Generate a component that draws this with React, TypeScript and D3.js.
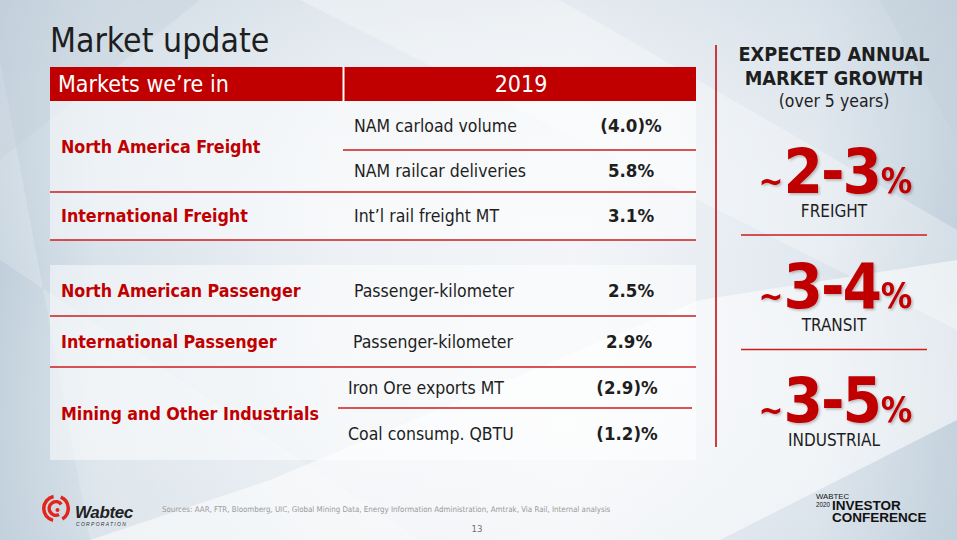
import React from "react";
import * as d3 from "d3";

// ---------- data ----------
const headerLabels = ["Markets we’re in", "2019"];
const segments = [
  "North America Freight",
  "International Freight",
  "North American Passenger",
  "International Passenger",
  "Mining and Other Industrials",
];
const metricLabels = [
  "NAM carload volume",
  "NAM railcar deliveries",
  "Int’l rail freight MT",
  "Passenger-kilometer",
  "Passenger-kilometer",
  "Iron Ore exports MT",
  "Coal consump. QBTU",
];
const metricSegment = [0, 0, 1, 2, 3, 4, 4];
const metricGroup = [0, 0, 0, 1, 1, 1, 1];
const metricValues2019 = [-4.0, 5.8, 3.1, 2.5, 2.9, -2.9, -1.2];

const panelTitle = ["EXPECTED ANNUAL", "MARKET GROWTH"];
const panelSubtitle = "(over 5 years)";
const growthLow = [2, 3, 3];
const growthHigh = [3, 4, 5];
const growthLabels = ["FREIGHT", "TRANSIT", "INDUSTRIAL"];

const slideTitle = "Market update";
const sourcesText =
  "Sources: AAR, FTR, Bloomberg, UIC, Global Mining Data, Energy Information Administration, Amtrak, Via Rail, Internal analysis";
const pageNumber = "13";

// ---------- layout ----------
const W = 957;
const H = 540;
const FONT = "'DejaVu Sans Condensed', 'DejaVu Sans', sans-serif";
const RED = "#C00000";
const DARK = "#1e1e1e";
const groupTop = [101, 265];
const rowHeights = [49, 42, 48, 51, 51, 41, 52];
const tableLeft = 50;
const tableRight = 696;
const colDivider = 343;

const fmt = d3.format(".1f");
const fmtValue = (v: number) => (v < 0 ? `(${fmt(-v)})%` : `${fmt(v)}%`);

const rowTops: number[] = [];
{
  const cur = [groupTop[0], groupTop[1]];
  metricLabels.forEach((_, i) => {
    const g = metricGroup[i];
    rowTops.push(cur[g]);
    cur[g] += rowHeights[i];
  });
}
const rowMid = (i: number) => rowTops[i] + rowHeights[i] / 2;

const valueX = d3.scaleOrdinal<number, number>().domain([0, 1, 2, 3, 4]).range([631, 631, 631, 629, 627]);
const labelX = d3.scaleOrdinal<number, number>().domain([0, 1, 2, 3, 4]).range([354, 354, 354, 353, 348]);

const growthY = d3.scalePoint<number>().domain([0, 1, 2]).range([193, 422]);

const arc = d3.arc<any>();

export default function App() {
  const segRows = segments.map((_, s) => metricLabels.map((_, i) => i).filter((i) => metricSegment[i] === s));
  const segTop = segRows.map((r) => rowTops[r[0]]);
  const segBottom = segRows.map((r) => rowTops[r[r.length - 1]] + rowHeights[r[r.length - 1]]);

  const groupBottoms = [0, 1].map(
    (g) =>
      d3.max(
        metricLabels.map((_, i) => i).filter((i) => metricGroup[i] === g),
        (i) => rowTops[i] + rowHeights[i]
      ) as number
  );

  return (
    <svg
      width={W}
      height={H}
      viewBox={`0 0 ${W} ${H}`}
      style={{ position: "absolute", left: 0, top: 0, display: "block" }}
      fontFamily={FONT}
    >
      <defs>
        <linearGradient id="bgH" x1="0" y1="0" x2="1" y2="0">
          <stop offset="0" stopColor="#c0cfdb" />
          <stop offset="0.1" stopColor="#d8e2ea" />
          <stop offset="0.35" stopColor="#edf1f5" />
          <stop offset="0.6" stopColor="#f3f5f8" />
          <stop offset="0.85" stopColor="#e1e8ef" />
          <stop offset="1" stopColor="#c0cfdb" />
        </linearGradient>
        <linearGradient id="bgV" x1="0" y1="0" x2="0" y2="1">
          <stop offset="0" stopColor="#c8d5df" stopOpacity="0.35" />
          <stop offset="0.5" stopColor="#ffffff" stopOpacity="0" />
          <stop offset="1" stopColor="#c8d5df" stopOpacity="0.25" />
        </linearGradient>
        <filter id="shadow" x="-10%" y="-10%" width="130%" height="130%">
          <feDropShadow dx="1.5" dy="1.5" stdDeviation="1.2" floodColor="#000" floodOpacity="0.25" />
        </filter>
      </defs>

      {/* background */}
      <rect x={0} y={0} width={W} height={H} fill="url(#bgH)" />
      <rect x={0} y={0} width={W} height={H} fill="url(#bgV)" />
      <polygon points="0,60 0,260 420,540 90,540" fill="#ffffff" opacity={0.18} />
      <polygon points="90,540 270,480 700,300 957,260 957,420 720,540" fill="#ffffff" opacity={0.55} />
      <polygon points="300,0 560,0 957,230 957,330" fill="#ffffff" opacity={0.3} />
      <polygon points="0,0 200,0 0,160" fill="#c2cfda" opacity={0.35} />
      <polygon points="880,0 957,0 957,140" fill="#c2cfda" opacity={0.4} />

      {/* title */}
      <text x={50} y={52} fontSize={33.5} fill={DARK}>
        {slideTitle}
      </text>

      {/* header */}
      <rect x={tableLeft} y={67} width={tableRight - tableLeft} height={34} fill={RED} />
      <line x1={colDivider + 0.5} x2={colDivider + 0.5} y1={67} y2={101} stroke="#fff" strokeWidth={2} />
      <text x={58} y={92} fontSize={23} fill="#fff">
        {headerLabels[0]}
      </text>
      <text x={521} y={92} fontSize={23} fill="#fff" textAnchor="middle">
        {headerLabels[1]}
      </text>

      {/* table body backgrounds */}
      {[0, 1].map((g) => (
        <rect
          key={g}
          x={tableLeft}
          y={groupTop[g]}
          width={tableRight - tableLeft}
          height={groupBottoms[g] - groupTop[g]}
          fill="#ffffff"
          opacity={0.5}
        />
      ))}

      {/* separators between segments */}
      {segments.map((_, s) => {
        const b = segBottom[s];
        if (b === groupBottoms[1]) return null;
        return <line key={"sl" + s} x1={tableLeft} x2={tableRight} y1={b} y2={b} stroke="#cc1c1c" strokeWidth={1.3} />;
      })}
      {/* separators within segments */}
      {metricLabels.map((_, i) => {
        const s = metricSegment[i];
        const next = i + 1;
        if (next >= metricLabels.length || metricSegment[next] !== s) return null;
        const y = rowTops[next];
        const x1 = s === 4 ? 338 : colDivider;
        const x2 = s === 4 ? 692 : tableRight;
        return <line key={"il" + i} x1={x1} x2={x2} y1={y} y2={y} stroke="#cc1c1c" strokeWidth={1.3} />;
      })}

      {/* segment labels */}
      {segments.map((name, s) => (
        <text
          key={"seg" + s}
          x={61}
          y={(segTop[s] + segBottom[s]) / 2 + 6.3}
          fontSize={17.7}
          fontWeight="bold"
          fill={RED}
        >
          {name}
        </text>
      ))}

      {/* metrics */}
      {metricLabels.map((m, i) => (
        <g key={"m" + i}>
          <text x={labelX(metricSegment[i])} y={rowMid(i) + 6.3} fontSize={17.5} fill={DARK}>
            {m}
          </text>
          <text
            x={valueX(metricSegment[i])}
            y={rowMid(i) + 6.3}
            fontSize={18.5}
            fontWeight="bold"
            fill={DARK}
            textAnchor="middle"
          >
            {fmtValue(metricValues2019[i])}
          </text>
        </g>
      ))}

      {/* right panel */}
      <line x1={716} x2={716} y1={45} y2={447} stroke={RED} strokeWidth={1.5} />
      {panelTitle.map((t, i) => (
        <text key={"pt" + i} x={834} y={61 + i * 24} fontSize={19.7} fontWeight="bold" fill={DARK} textAnchor="middle">
          {t}
        </text>
      ))}
      <text x={834} y={107} fontSize={17.5} fill={DARK} textAnchor="middle">
        {panelSubtitle}
      </text>

      {growthLabels.map((lab, i) => {
        const y = growthY(i) as number;
        return (
          <g key={"g" + i}>
            <text x={835.5} y={y} textAnchor="middle" fill={RED} fontWeight="bold" filter="url(#shadow)">
              <tspan fontSize={33}>~</tspan>
              <tspan fontSize={63} letterSpacing={-2}>{`${growthLow[i]}-${growthHigh[i]}`}</tspan>
              <tspan fontSize={35} dx={1}>%</tspan>
            </text>
            <text x={834} y={y + 23.5} fontSize={17} fill={DARK} textAnchor="middle">
              {lab}
            </text>
            {i < growthLabels.length - 1 && (
              <line x1={741} x2={927} y1={y + 42} y2={y + 42} stroke="#cc1c1c" strokeWidth={1.3} />
            )}
          </g>
        );
      })}

      {/* footer: logo */}
      <g transform="translate(56,508.5)">
        <path d={arc({ innerRadius: 10.5, outerRadius: 14, startAngle: -2.9, endAngle: -0.2 }) as string} fill="#e1251b" />
        <path d={arc({ innerRadius: 10.5, outerRadius: 14, startAngle: 0.4, endAngle: 2.6 }) as string} fill="#e1251b" />
        <path d={arc({ innerRadius: 5, outerRadius: 8.5, startAngle: -3.6, endAngle: 0.9 }) as string} fill="#e1251b" />
        <circle cx={1.5} cy={1.5} r={2} fill="#e1251b" />
      </g>
      <text
        x={75}
        y={518}
        fontSize={17}
        fontWeight="bold"
        fontStyle="italic"
        fill="#222"
        fontFamily="'Liberation Sans', Arial, sans-serif"
        letterSpacing={-0.4}
      >
        Wabtec
      </text>
      <text
        x={76}
        y={525.5}
        fontSize={5}
        fontStyle="italic"
        fill="#333"
        letterSpacing={1.3}
        fontFamily="'Liberation Sans', Arial, sans-serif"
      >
        CORPORATION
      </text>

      {/* sources */}
      <text x={162} y={512} fontSize={7.9} fill="#9a9a9a">
        {sourcesText}
      </text>
      <text x={477} y={532} fontSize={9.5} fill="#707070" textAnchor="middle">
        {pageNumber}
      </text>

      {/* conference logo */}
      <g fontFamily="'Liberation Sans', Arial, sans-serif" fill="#111">
        <text x={816} y={498.5} fontSize={7.8}>WABTEC</text>
        <text x={816} y={507} fontSize={6.3}>2020</text>
        <text x={832} y={509.5} fontSize={13.5} fontWeight="bold">INVESTOR</text>
        <text x={832} y={522} fontSize={13.5} fontWeight="bold">CONFERENCE</text>
      </g>
    </svg>
  );
}
